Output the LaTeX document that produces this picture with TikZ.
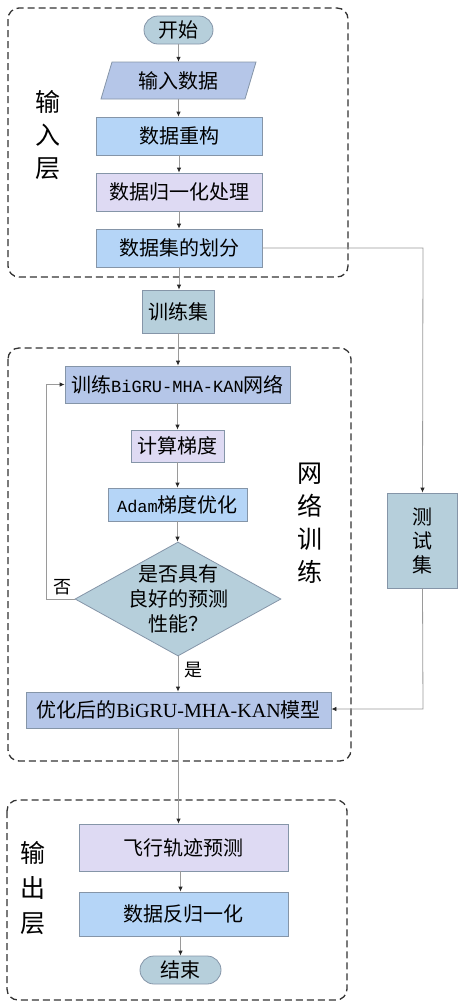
\documentclass[tikz,border=0pt]{standalone}
\usepackage{fontspec}
\setmainfont{Noto Sans CJK SC}
\newfontfamily\lser{Liberation Serif}
\newfontfamily\lmono{Liberation Mono}
\usetikzlibrary{shapes.geometric,arrows.meta}
\definecolor{cgray}{HTML}{B6CFDB}
\definecolor{cperi}{HTML}{B5C6E8}
\definecolor{cblue}{HTML}{B5D5F7}
\definecolor{clav}{HTML}{DEDAF3}
\definecolor{cbord}{HTML}{8595A8}
\definecolor{cline}{HTML}{9A9A9A}
\tikzset{
  x=1pt,y=-1pt,
  boxbase/.style={draw=cbord,line width=0.8pt,inner sep=0pt,align=center,
    font=\fontsize{20}{24}\selectfont},
  stadium/.style={boxbase,fill=cgray,rounded corners=14pt},
  bluebox/.style={boxbase,fill=cblue},
  lavbox/.style={boxbase,fill=clav},
  peribox/.style={boxbase,fill=cperi},
  graybox/.style={boxbase,fill=cgray},
  conn/.style={draw=cline,line width=0.8pt,-{Latex[length=5pt,width=4.5pt,color=black!85]}},
  region/.style={draw=black!80,line width=1.3pt,dash pattern=on 7pt off 4pt,rounded corners=11pt},
  vlabel/.style={align=center,font=\fontsize{25}{33}\selectfont,inner sep=0pt},
  smlabel/.style={font=\fontsize{18}{20}\selectfont,inner sep=0pt},
}
\begin{document}
\begin{tikzpicture}
\useasboundingbox (0,0) rectangle (458,1002);
% regions
\draw[region] (8,8) rectangle (348,277);
\draw[region] (8,348) rectangle (351,761);
\draw[region] (7,800) rectangle (347,1000);
% layer labels
\node[vlabel] (lin) at (48,135) {输\\入\\层};
\node[vlabel] (lnet) at (310,523) {网\\络\\训\\练};
\node[vlabel,font=\fontsize{25}{35}\selectfont] (lout) at (33,888) {输\\出\\层};
% nodes
\node[stadium,minimum width=69pt,minimum height=28pt] (start) at (178.5,30) {开始};
\node[minimum width=145pt,minimum height=37pt,inner sep=0pt] (in) at (178.5,80.5) {};
\fill[cperi,draw=cbord,line width=0.8pt] (112,62) -- (256,62) -- (245,99) -- (101,99) -- cycle;
\node[font=\fontsize{20}{24}\selectfont,inner sep=0pt] (intxt) at (in.center) {输入数据};
\node[bluebox,minimum width=166pt,minimum height=38pt] (rec) at (179,136) {数据重构};
\node[lavbox,minimum width=166pt,minimum height=38pt] (norm) at (179,192) {数据归一化处理};
\node[bluebox,minimum width=166pt,minimum height=38pt] (split) at (179,248) {数据集的划分};
\node[graybox,minimum width=72pt,minimum height=43pt] (trset) at (178,311.5) {训练集};
\node[peribox,minimum width=225pt,minimum height=37pt] (trnet) at (177.5,384.5) {训练{\lmono\fontsize{17}{24}\selectfont BiGRU-MHA-KAN}网络};
\node[lavbox,minimum width=93pt,minimum height=32pt] (grad) at (177.5,446) {计算梯度};
\node[bluebox,minimum width=139pt,minimum height=33pt] (adam) at (177.5,504.5) {{\lmono\fontsize{17}{24}\selectfont Adam}梯度优化};
\node[diamond,draw=cbord,fill=cgray,line width=0.8pt,inner sep=0pt,minimum width=206pt,minimum height=114pt] (dia) at (178,599) {};
\node[align=center,font=\fontsize{20}{25}\selectfont,inner sep=0pt] (diatxt) at (dia.center) {是否具有\\良好的预测\\性能？};
\node[graybox,minimum width=70pt,minimum height=95pt,font=\fontsize{20}{24}\selectfont] (test) at (422.5,540.5) {测\\试\\集};
\node[peribox,minimum width=305pt,minimum height=36pt] (model) at (178.5,710) {优化后的{\lser BiGRU-MHA-KAN}模型};
\node[lavbox,minimum width=209pt,minimum height=47pt] (flight) at (183.5,847.5) {飞行轨迹预测};
\node[bluebox,minimum width=209pt,minimum height=44pt] (denorm) at (183.5,914) {数据反归一化};
\node[stadium,minimum width=81pt,minimum height=28pt] (end) at (180.5,970) {结束};
% connectors
\coordinate (c1) at (179,0);
\draw[conn] (start.south) -- (start.south |- in.north);
\draw[conn] (in.south) -- (in.south |- rec.north);
\draw[conn] (rec.south) -- (norm.north);
\draw[conn] (norm.south) -- (split.north);
\draw[conn] (split.south) -- (split.south |- trset.north);
\coordinate (sp) at (423,248);
\draw[conn] (split.east) -- (sp) -- (test.north);
\draw[conn] (trset.south) -- (trset.south |- trnet.north);
\draw[conn] (trnet.south) -- (grad.north);
\draw[conn] (grad.south) -- (adam.north);
\draw[conn] (adam.south) -- (adam.south |- dia.north);
\coordinate (fb1) at (46,599);
\coordinate (fb2) at (46,384.5);
\draw[conn] (dia.west) -- (fb1) -- (fb2) -- (trnet.west);
\node[smlabel] (no) at (62,587) {否};
\draw[conn] (dia.south) -- (dia.south |- model.north);
\node[smlabel] (yes) at (193,670) {是};
\coordinate (tp) at (423,709);
\draw[conn] (test.south) -- (tp) -- (model.east |- tp);
\draw[conn] (model.south) -- (model.south |- flight.north);
\draw[conn] (flight.south -| end.north) -- (end.north |- denorm.north);
\draw[conn] (denorm.south -| end.north) -- (end.north);
\end{tikzpicture}
\end{document}
